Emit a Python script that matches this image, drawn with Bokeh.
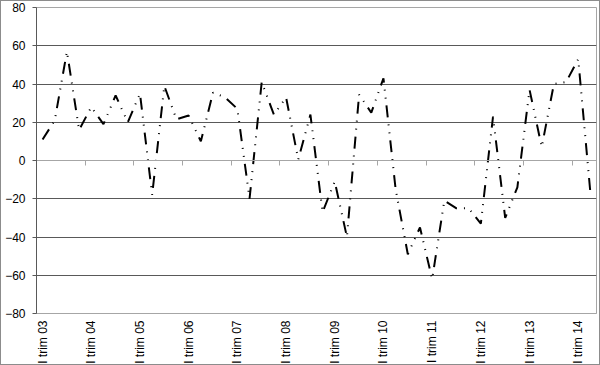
import math
import numpy as np
from bokeh.plotting import figure
from bokeh.models import Range1d, FixedTicker, LinearAxis, CustomJSTickFormatter
from bokeh.embed import file_html
from bokeh.resources import INLINE

# ---- data ----
years = ["03", "04", "05", "06", "07", "08", "09", "10", "11", "12", "13", "14"]
quarter_names = ["I", "II", "III", "IV"]
quarters = [f"{q} trim {y}" for y in years for q in quarter_names][:46]  # I trim 03 .. II trim 14

values = [11, 21, 57, 16, 28, 19, 34, 20, 35, -18,
          39, 21.5, 23.5, 10, 35.5, 33, 27, -20, 41, 24,
          33, 0.5, 24, -27, -11, -40, 34.5, 25, 43, -15,
          -49, -35, -62, -21, -25, -25, -33, 23, -30, -14,
          37, 7, 40, 41, 53, -17]

y_ticks = [-80, -60, -40, -20, 0, 20, 40, 60, 80]
grid_ticks = [-60, -40, -20, 20, 40, 60]

n = len(quarters)
x = np.arange(n) + 0.5

FONT = "Liberation Sans"
LIGHT = "#a6a6a6"
DARK = "#595959"

p = figure(width=600, height=365, output_backend="svg", toolbar_location=None,
           x_range=Range1d(0, n), y_range=Range1d(-80, 80),
           min_border_left=35, min_border_right=5, min_border_top=6, min_border_bottom=53,
           x_axis_location=None, y_axis_location="left",
           styles={"border": "1px solid #8c8c8c", "box-sizing": "border-box"})

p.background_fill_color = "white"
p.border_fill_color = "white"
p.outline_line_color = LIGHT
p.outline_line_width = 1

# grid
p.xgrid.visible = False
p.ygrid.ticker = FixedTicker(ticks=grid_ticks)
p.ygrid.grid_line_color = DARK
p.ygrid.grid_line_width = 1

# y axis
ya = p.yaxis[0]
ya.ticker = FixedTicker(ticks=y_ticks)
ya.axis_line_color = DARK
ya.major_tick_line_color = DARK
ya.major_tick_out = 4
ya.major_tick_in = 0
ya.minor_tick_line_color = None
ya.major_label_text_font = FONT
ya.major_label_text_font_size = "12px"
ya.major_label_text_color = "black"
ya.major_label_standoff = 7

# bottom axis with category labels (at Q1 of each year)
label_ticks = [i + 0.5 for i in range(0, n, 4)]
xa = LinearAxis(ticker=FixedTicker(ticks=label_ticks),
                formatter=CustomJSTickFormatter(args=dict(labels=quarters),
                                                code="return labels[Math.round(tick - 0.5)];"))
xa.axis_line_color = LIGHT
xa.major_tick_line_color = None
xa.major_tick_out = 0
xa.major_tick_in = 0
xa.minor_tick_line_color = None
xa.minor_tick_out = 0
xa.major_label_orientation = math.pi / 2
xa.major_label_text_font = FONT
xa.major_label_text_font_size = "12px"
xa.major_label_text_color = "black"
xa.major_label_standoff = 7
p.add_layout(xa, "below")

# axis at zero with tick marks at category boundaries
za = LinearAxis(fixed_location=0, ticker=FixedTicker(ticks=list(range(0, n + 1, 4))))
za.axis_line_color = LIGHT
za.major_tick_line_color = LIGHT
za.major_tick_out = 5
za.major_tick_in = 0
za.minor_tick_line_color = None
za.major_label_text_font_size = "0px"
za.major_label_text_color = None
p.add_layout(za, "below")

p.line(x, values, line_color="black", line_width=2, line_dash="12 7 1 7 1 7")

open("out.html", "w").write(file_html(p, INLINE))
